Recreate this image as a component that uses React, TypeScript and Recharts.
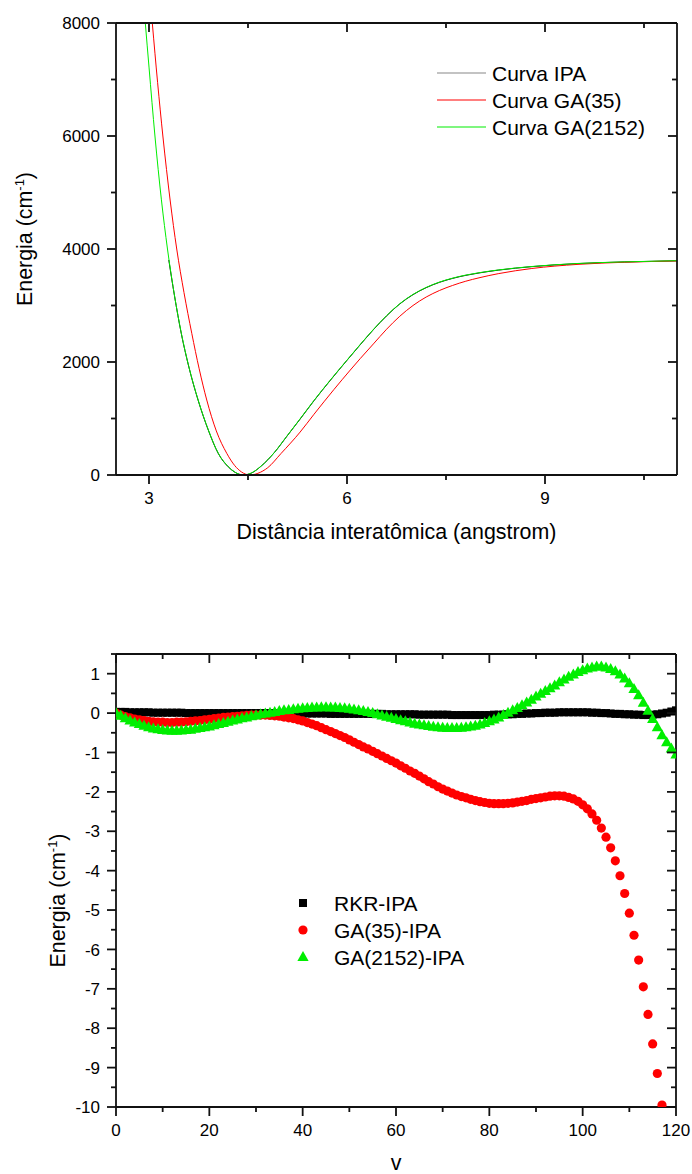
import React from 'react';
import { LineChart, Line, XAxis, YAxis, ScatterChart, Scatter, Legend, ReferenceLine } from 'recharts';

const FONT = '"Liberation Sans", Arial, Helvetica, sans-serif';

// ---------- Top chart: potential curves ----------
const ipaR = [3.30, 3.385, 3.49, 3.6, 3.745, 3.9, 4.05, 4.2, 4.3, 4.43, 4.55, 4.7, 4.9, 5.087, 5.29, 5.5, 5.74, 6.0, 6.2, 6.4, 6.6, 6.8, 7.0, 7.2, 7.4, 7.6, 7.8, 8.0, 8.3, 8.8, 9.5, 10.2, 11.0];
const ipaE = [3805, 3180, 2500, 1930, 1320, 790, 380, 145, 50, 0, 33, 158, 398, 682, 990, 1315, 1665, 2030, 2305, 2572, 2817, 3028, 3192, 3316, 3410, 3480, 3534, 3576, 3627, 3688, 3742, 3771, 3792];

const ga35R = [3.05, 3.13, 3.21, 3.32, 3.42, 3.53, 3.648, 3.76, 3.875, 4.02, 4.178, 4.3, 4.4, 4.53, 4.65, 4.8, 5.0, 5.29, 5.5, 5.8, 6.05, 6.2, 6.4, 6.6, 6.8, 7.0, 7.2, 7.4, 7.6, 7.8, 8.0, 8.3, 8.8, 9.5, 10.2, 11.0];
const ga35E = [8000, 6950, 6000, 4867, 4000, 3230, 2508, 1880, 1327, 780, 384, 165, 55, 0, 30, 130, 380, 760, 1075, 1510, 1858, 2060, 2320, 2580, 2810, 3000, 3150, 3265, 3355, 3430, 3490, 3565, 3655, 3728, 3765, 3788];

const ga2152R = [2.944, 3.0, 3.09, 3.188, 3.28, 3.385, 3.49, 3.6, 3.745, 3.9, 4.05, 4.2, 4.3, 4.42, 4.55, 4.7, 4.9, 5.087, 5.29, 5.5, 5.74, 6.0, 6.2, 6.4, 6.6, 6.8, 7.0, 7.2, 7.4, 7.6, 7.8, 8.0, 8.3, 8.8, 9.5, 10.2, 11.0];
const ga2152E = [8000, 7220, 6000, 4870, 4000, 3185, 2508, 1935, 1327, 795, 384, 150, 52, 0, 35, 160, 400, 685, 995, 1320, 1670, 2034, 2310, 2576, 2820, 3032, 3196, 3320, 3414, 3484, 3538, 3580, 3630, 3690, 3744, 3772, 3793];

const topNames = ['Curva IPA', 'Curva GA(35)', 'Curva GA(2152)'];
const topColors = ['#000000', '#ff0000', '#00ee00'];
const topXDomain = [2.5, 11];
const topYDomain = [0, 8000];
const topXTicks = [3, 4.5, 6, 7.5, 9, 10.5];
const topYTicks = [0, 1000, 2000, 3000, 4000, 5000, 6000, 7000, 8000];

// ---------- Bottom chart: differences ----------
const rkrIpa = [
  0.03, 0.03, 0.03, 0.02, 0.02, 0.02, 0.02, 0.02, 0.01, 0.01,
  0.01, 0.01, 0.01, 0.01, 0.01, 0.00, 0.00, 0.00, 0.00, 0.00,
  0.00, 0.00, 0.00, 0.00, 0.00, 0.00, 0.00, 0.00, 0.00, 0.00,
  0.00, 0.00, 0.00, 0.00, -0.01, -0.01, -0.01, -0.01, -0.01, -0.01,
  -0.01, -0.01, -0.01, -0.01, -0.01, -0.01, -0.02, -0.02, -0.02, -0.02,
  -0.02, -0.02, -0.02, -0.02, -0.02, -0.02, -0.02, -0.02, -0.03, -0.03,
  -0.03, -0.03, -0.03, -0.03, -0.03, -0.04, -0.04, -0.04, -0.04, -0.04,
  -0.04, -0.04, -0.05, -0.05, -0.05, -0.05, -0.05, -0.05, -0.05, -0.05,
  -0.05, -0.04, -0.04, -0.04, -0.03, -0.03, -0.02, -0.02, -0.01, -0.01,
  0.00, 0.00, 0.01, 0.01, 0.01, 0.02, 0.02, 0.02, 0.02, 0.02,
  0.02, 0.02, 0.01, 0.01, 0.00, 0.00, -0.01, -0.02, -0.02, -0.03,
  -0.03, -0.04, -0.04, -0.05, -0.05, -0.04, -0.03, -0.01, 0.01, 0.04,
  0.07,
];

const ga35Ipa = [
  0.00, -0.05, -0.09, -0.12, -0.15, -0.17, -0.19, -0.21, -0.22, -0.23,
  -0.23, -0.24, -0.24, -0.23, -0.23, -0.22, -0.21, -0.20, -0.19, -0.17,
  -0.16, -0.14, -0.13, -0.11, -0.10, -0.09, -0.08, -0.07, -0.06, -0.05,
  -0.05, -0.05, -0.05, -0.06, -0.07, -0.08, -0.10, -0.12, -0.14, -0.17,
  -0.20, -0.24, -0.28, -0.32, -0.37, -0.42, -0.47, -0.52, -0.57, -0.62,
  -0.68, -0.74, -0.80, -0.86, -0.91, -0.97, -1.03, -1.09, -1.15, -1.21,
  -1.27, -1.34, -1.40, -1.47, -1.53, -1.60, -1.67, -1.74, -1.80, -1.87,
  -1.93, -1.98, -2.03, -2.08, -2.12, -2.15, -2.19, -2.22, -2.25, -2.27,
  -2.29, -2.30, -2.30, -2.30, -2.29, -2.28, -2.26, -2.24, -2.22, -2.19,
  -2.17, -2.15, -2.13, -2.11, -2.10, -2.10, -2.11, -2.14, -2.18, -2.24,
  -2.33, -2.43, -2.56, -2.72, -2.92, -3.15, -3.42, -3.75, -4.13, -4.58,
  -5.08, -5.64, -6.27, -6.95, -7.65, -8.40, -9.15, -9.95,
];

const ga2152Ipa = [
  0.00, -0.07, -0.13, -0.19, -0.24, -0.28, -0.32, -0.36, -0.39, -0.41,
  -0.43, -0.44, -0.45, -0.45, -0.44, -0.43, -0.42, -0.40, -0.38, -0.36,
  -0.34, -0.31, -0.28, -0.25, -0.22, -0.19, -0.16, -0.13, -0.11, -0.08,
  -0.06, -0.03, -0.01, 0.01, 0.03, 0.05, 0.07, 0.08, 0.10, 0.11,
  0.12, 0.13, 0.14, 0.14, 0.15, 0.15, 0.14, 0.14, 0.13, 0.12,
  0.11, 0.09, 0.07, 0.05, 0.03, 0.00, -0.03, -0.06, -0.09, -0.12,
  -0.15, -0.18, -0.21, -0.24, -0.27, -0.29, -0.31, -0.33, -0.35, -0.36,
  -0.37, -0.38, -0.38, -0.38, -0.37, -0.36, -0.34, -0.32, -0.29, -0.25,
  -0.21, -0.16, -0.11, -0.05, 0.01, 0.07, 0.13, 0.20, 0.27, 0.34,
  0.42, 0.49, 0.56, 0.63, 0.70, 0.78, 0.85, 0.92, 0.98, 1.04,
  1.09, 1.13, 1.16, 1.18, 1.18, 1.16, 1.12, 1.06, 0.98, 0.88,
  0.76, 0.61, 0.45, 0.26, 0.06, -0.15, -0.36, -0.56, -0.74, -0.90,
  -1.05,
];

const botNames = ['RKR-IPA', 'GA(35)-IPA', 'GA(2152)-IPA'];
const botColors = ['#000000', '#ff0000', '#00ee00'];
const botXDomain = [0, 120];
const botYDomain = [-10, 1.5];
const botXTicks = [0, 10, 20, 30, 40, 50, 60, 70, 80, 90, 100, 110, 120];
const botYTicks = [-10, -9.5, -9, -8.5, -8, -7.5, -7, -6.5, -6, -5.5, -5, -4.5, -4, -3.5, -3, -2.5, -2, -1.5, -1, -0.5, 0, 0.5, 1, 1.5];

// ---------- layout ----------
const TOP_L = { w: 692, h: 560, m: { top: 23, right: 15, left: 0, bottom: 0 }, yW: 116, xH: 85 };
const BOT_L = { w: 692, h: 574, m: { top: 54, right: 16, left: 0, bottom: 0 }, yW: 116, xH: 67 };
const plotW = (L: typeof TOP_L) => L.w - L.m.left - L.m.right - L.yW;
const plotH = (L: typeof TOP_L) => L.h - L.m.top - L.m.bottom - L.xH;

// ---------- helpers ----------
const pairs = (xs: number[], ys: number[]) => xs.map((r, i) => ({ r, e: ys[i] }));
const levels = (ys: number[]) => ys.map((e, v) => ({ v, e }));

const ipaData = pairs(ipaR, ipaE);
const ga35Data = pairs(ga35R, ga35E);
const ga2152Data = pairs(ga2152R, ga2152E);

const rkrData = levels(rkrIpa);
const ga35DiffData = levels(ga35Ipa);
const ga2152DiffData = levels(ga2152Ipa);

const AXIS_W = 1.8;
const TICK_FS = 17;
const TITLE_FS = 21.4;
const LEGEND_FS = 21;
const INK = '#111';

function makeXTick(isMajor: (v: number) => boolean, frameDist: number, majorLen = 9, minorLen = 5) {
  return (props: any) => {
    const { x, y, payload } = props;
    const v = payload.value as number;
    const major = isMajor(v);
    const len = major ? majorLen : minorLen;
    const topY = y - frameDist;
    return (
      <g>
        <line x1={x} y1={y} x2={x} y2={y + len} stroke={INK} strokeWidth={AXIS_W} />
        <line x1={x} y1={topY} x2={x} y2={topY + len} stroke={INK} strokeWidth={AXIS_W} />
        {major && (
          <text x={x} y={y + 29} textAnchor="middle" fontSize={TICK_FS} fontFamily={FONT} fill="#000">
            {String(v)}
          </text>
        )}
      </g>
    );
  };
}

function makeYTick(isMajor: (v: number) => boolean, frameDist: number, majorLen = 9, minorLen = 5) {
  return (props: any) => {
    const { x, y, payload } = props;
    const v = payload.value as number;
    const major = isMajor(v);
    const len = major ? majorLen : minorLen;
    const rightX = x + frameDist;
    return (
      <g>
        <line x1={x - len} y1={y} x2={x} y2={y} stroke={INK} strokeWidth={AXIS_W} />
        <line x1={rightX - len} y1={y} x2={rightX} y2={y} stroke={INK} strokeWidth={AXIS_W} />
        {major && (
          <text x={x - 16} y={y} dy="0.36em" textAnchor="end" fontSize={TICK_FS} fontFamily={FONT} fill="#000">
            {String(v)}
          </text>
        )}
      </g>
    );
  };
}

const near = (v: number, step: number) => Math.abs(v / step - Math.round(v / step)) < 1e-6;

const YTitle = ({ cx, cy }: { cx: number; cy: number }) => (
  <text
    x={cx}
    y={cy}
    dy="0.35em"
    transform={`rotate(-90, ${cx}, ${cy})`}
    textAnchor="middle"
    fontSize={TITLE_FS}
    fontFamily={FONT}
    fill="#000"
  >
    Energia (cm
    <tspan fontSize={13} dy={-8}>-1</tspan>
    <tspan dy={8}>)</tspan>
  </text>
);

const TopLegend = () => (
  <svg width={260} height={90} style={{ overflow: 'visible' }}>
    {topNames.map((n, i) => (
      <g key={n}>
        <line x1={7} x2={56} y1={13 + i * 27} y2={13 + i * 27} stroke={i === 0 ? '#888' : topColors[i]} strokeWidth={1.2} />
        <text x={62} y={13 + i * 27} dy="0.36em" fontSize={LEGEND_FS} fontFamily={FONT} fill="#000">
          {n}
        </text>
      </g>
    ))}
  </svg>
);

const Square = (p: any) => <rect x={p.cx - 4} y={p.cy - 4} width={8} height={8} fill={botColors[0]} />;
const Dot = (p: any) => <circle cx={p.cx} cy={p.cy} r={4.6} fill={botColors[1]} />;
const Tri = (p: any) => (
  <polygon
    points={`${p.cx},${p.cy - 6} ${p.cx - 5.6},${p.cy + 4} ${p.cx + 5.6},${p.cy + 4}`}
    fill={botColors[2]}
  />
);

const BotLegend = () => (
  <svg width={260} height={90} style={{ overflow: 'visible' }}>
    <rect x={23 - 4} y={13 - 4} width={8} height={8} fill={botColors[0]} />
    <circle cx={23} cy={40} r={4.6} fill={botColors[1]} />
    <polygon points={`23,61 17.4,71 28.6,71`} fill={botColors[2]} />
    {botNames.map((n, i) => (
      <text key={n} x={54} y={13 + i * 27} dy="0.36em" fontSize={LEGEND_FS} fontFamily={FONT} fill="#000">
        {n}
      </text>
    ))}
  </svg>
);

const frameLine = { stroke: INK, strokeWidth: AXIS_W };

export default function App() {
  return (
    <div style={{ position: 'absolute', left: 0, top: 0, width: 692, height: 1174, background: '#fff', fontFamily: FONT }}>
      <div style={{ position: 'absolute', left: 0, top: 0 }}>
        <LineChart width={TOP_L.w} height={TOP_L.h} margin={TOP_L.m}>
          <XAxis
            dataKey="r"
            type="number"
            domain={topXDomain}
            allowDataOverflow
            ticks={topXTicks}
            interval={0}
            height={TOP_L.xH}
            tickSize={0}
            tickMargin={0}
            tickLine={false}
            axisLine={frameLine}
            tick={makeXTick((v) => near(v, 3), plotH(TOP_L))}
            label={(p: any) => (
              <text
                x={p.viewBox.x + p.viewBox.width / 2}
                y={p.viewBox.y + 64}
                textAnchor="middle"
                fontSize={TITLE_FS}
                fontFamily={FONT}
                fill="#000"
              >
                Distância interatômica (angstrom)
              </text>
            )}
          />
          <YAxis
            type="number"
            domain={topYDomain}
            allowDataOverflow
            ticks={topYTicks}
            interval={0}
            width={TOP_L.yW}
            tickSize={0}
            tickMargin={0}
            tickLine={false}
            axisLine={frameLine}
            tick={makeYTick((v) => near(v, 2000), plotW(TOP_L))}
            label={(p: any) => <YTitle cx={25} cy={p.viewBox.y + p.viewBox.height / 2 - 10} />}
          />
          <Line data={ipaData} dataKey="e" name={topNames[0]} type="monotone" stroke={topColors[0]} strokeWidth={1} dot={false} isAnimationActive={false} />
          <Line data={ga35Data} dataKey="e" name={topNames[1]} type="monotone" stroke={topColors[1]} strokeWidth={1} dot={false} isAnimationActive={false} />
          <Line data={ga2152Data} dataKey="e" name={topNames[2]} type="monotone" stroke={topColors[2]} strokeWidth={1} dot={false} isAnimationActive={false} />
          <ReferenceLine y={topYDomain[1]} stroke={INK} strokeWidth={AXIS_W} ifOverflow="visible" />
          <ReferenceLine x={topXDomain[1]} stroke={INK} strokeWidth={AXIS_W} ifOverflow="visible" />
          <Legend
            content={TopLegend}
            layout="vertical"
            align="center"
            verticalAlign="middle"
            wrapperStyle={{ top: 60, left: 430, width: 260, height: 90 }}
          />
        </LineChart>
      </div>

      <div style={{ position: 'absolute', left: 0, top: 600 }}>
        <ScatterChart width={BOT_L.w} height={BOT_L.h} margin={BOT_L.m}>
          <XAxis
            dataKey="v"
            type="number"
            domain={botXDomain}
            allowDataOverflow
            ticks={botXTicks}
            interval={0}
            height={BOT_L.xH}
            tickSize={0}
            tickMargin={0}
            tickLine={false}
            axisLine={frameLine}
            tick={makeXTick((v) => near(v, 20), plotH(BOT_L))}
            label={(p: any) => (
              <text
                x={p.viewBox.x + p.viewBox.width / 2}
                y={p.viewBox.y + 63}
                textAnchor="middle"
                fontSize={TITLE_FS}
                fontFamily={FONT}
                fill="#000"
              >
                v
              </text>
            )}
          />
          <YAxis
            dataKey="e"
            type="number"
            domain={botYDomain}
            allowDataOverflow
            ticks={botYTicks}
            interval={0}
            width={BOT_L.yW}
            tickSize={0}
            tickMargin={0}
            tickLine={false}
            axisLine={frameLine}
            tick={makeYTick((v) => near(v, 1), plotW(BOT_L))}
            label={(p: any) => <YTitle cx={58} cy={p.viewBox.y + p.viewBox.height / 2 + 20} />}
          />
          <Scatter data={rkrData} name={botNames[0]} fill={botColors[0]} shape={Square} isAnimationActive={false} />
          <Scatter data={ga35DiffData} name={botNames[1]} fill={botColors[1]} shape={Dot} isAnimationActive={false} />
          <Scatter data={ga2152DiffData} name={botNames[2]} fill={botColors[2]} shape={Tri} isAnimationActive={false} />
          <ReferenceLine y={botYDomain[1]} stroke={INK} strokeWidth={AXIS_W} ifOverflow="visible" />
          <ReferenceLine x={botXDomain[1]} stroke={INK} strokeWidth={AXIS_W} ifOverflow="visible" />
          <Legend
            content={BotLegend}
            layout="vertical"
            align="center"
            verticalAlign="middle"
            wrapperStyle={{ top: 290, left: 280, width: 260, height: 90 }}
          />
        </ScatterChart>
      </div>
    </div>
  );
}
